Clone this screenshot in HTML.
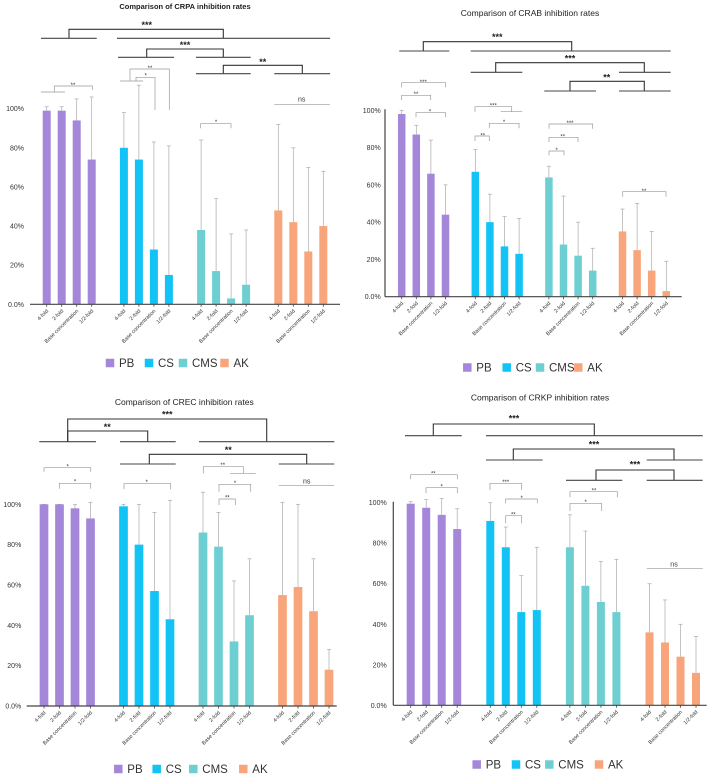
<!DOCTYPE html>
<html><head><meta charset="utf-8">
<style>
html,body{margin:0;padding:0;background:#fff;}
svg{display:block;font-family:"Liberation Sans",sans-serif;}
</style></head>
<body>
<svg id="chart" width="721" height="779" viewBox="0 0 721 779" xmlns="http://www.w3.org/2000/svg"></svg>
<script>
const groups = ['PB','CS','CMS','AK'];
const categories = ['4-fold','2-fold','Base concentration','1/2-fold'];
const yTicks = [0,20,40,60,80,100];
const yTickLabels = ['0.0%','20%','40%','60%','80%','100%'];
// values per group (in %), and error-bar upper ends (in %)
const crpaValues = [[99,99,94,74],[80,74,28,15],[38,17,3,10],[48,42,27,40]];
const crpaErrTop = [[101,101,105,106],[98,112,83,81],[84,54,36,38],[92,80,70,68]];
const crabValues = [[98,87,66,44],[67,40,27,23],[64,28,22,14],[35,25,14,3]];
const crabErrTop = [[100,92,84,60],[79,55,43,42],[70,54,40,26],[47,50,35,19]];
const crecValues = [[100,100,98,93],[99,80,57,43],[86,79,32,45],[55,59,47,18]];
const crecErrTop = [[100,100,100,101],[100,100,96,102],[106,96,62,73],[101,100,73,28]];
const crkpValues = [[99.5,97.5,94,87],[91,78,46,47],[78,59,51,46],[36,31,24,16]];
const crkpErrTop = [[100.5,101.5,102,97],[100,88,64,78],[94,86,71,72],[60,52,40,34]];
const colors = ['#a487d9','#13c3f5','#6ecfd2','#f8a57b'];

const panels = [
 {name:'crpa', title:'Comparison of CRPA inhibition rates', ox:0, oy:0, titleX:185, titleY:9, titleSize:7.5, bold:true,
  vals:crpaValues, errs:crpaErrTop, y100:108.7, y0:304.3, xStart:30, xEnd:340, yAxis:false, labelX:24,
  first:46.7, groupStep:77.2, barStep:15, barW:8, legendY:363, legendX:[110,149,183,224.5],
  major:[['***',69,223.3,29.3,38.3,146.7,25,[[41,96.7],[117,330]]],
         ['***',146.7,223.3,49,57.3,185,45,[[118,174],[196,250.7]]],
         ['**',223.3,302.3,65.3,73.7,262.7,62,[[196,250.7],[274.3,330]]]],
  minor:[['**',54.3,92.3,86,92,90,73,84,[41,65,92]],
         ['**',130,169.3,69,81,110,150,67,[120,143,81]],
         ['*',136,155,77.3,81,110,145.7,74.5,null],
         ['*',200.7,231,123.7,128.3,128.3,216,121,null],
         ['ns',274.3,330,104.3,104.3,104.3,301.7,99,null]]},
 {name:'crab', title:'Comparison of CRAB inhibition rates', ox:360, oy:0, titleX:170, titleY:16, titleSize:8.5, bold:false,
  vals:crabValues, errs:crabErrTop, y100:110.3, y0:296.7, xStart:25, xEnd:321.7, yAxis:true, labelX:20.7,
  first:41.7, groupStep:73.6, barStep:14.6, barW:7.5, legendY:367.5, legendX:[107.3,146.7,180,218.3],
  major:[['***',63.3,211.7,41.7,51,137.3,37,[[39.3,89.3],[110.7,310.7]]],
         ['***',135.7,284.3,62.7,72.3,210,58.5,[[110.7,162.3],[259,310.7]]],
         ['**',210,284.3,81.3,91,246.7,77.5,[[184.3,236],[259,310.7]]]],
  minor:[['***',41.7,85.7,82.7,87.3,87.3,63.3,81,null],
         ['**',41.7,70.7,95.3,100,100,56,93,null],
         ['*',56,85.7,112.7,117.3,117.3,70,110.5,null],
         ['***',115,151.7,106.7,111.7,111.7,133.3,104.5,[140.7,162.3,111.7]],
         ['*',129.3,159,123.3,128.3,128.3,144,121,null],
         ['**',115,129.3,136,141,141,122.7,134.5,null],
         ['***',189,232.7,124,128.7,128.7,210,122,null],
         ['**',189,218,137.3,142,142,202.7,135.5,null],
         ['*',189,204,151,155.3,155.3,196.7,149,null],
         ['**',262.7,306,191.7,196.7,196.7,284,190,null]]},
 {name:'crec', title:'Comparison of CREC inhibition rates', ox:0, oy:390, titleX:184.3, titleY:15, titleSize:8.5, bold:false,
  vals:crecValues, errs:crecErrTop, y100:114.3, y0:316, xStart:26.7, xEnd:336.7, yAxis:false, labelX:21.3,
  first:44, groupStep:79.5, barStep:15.5, barW:8.7, legendY:379, legendX:[118.3,156.7,193.3,243.3],
  major:[['***',67.7,266.7,29,51.7,167.3,24.5,[[39.3,96],[199,334.3]]],
         ['**',67.7,147.7,41,51.7,107.3,37,[[120,175.7]]],
         ['**',149.3,306.7,64.3,74,228.3,60,[[120,175.7],[278.7,334.3]]]],
  minor:[['*',44,90.7,77.7,81.7,81.7,67.7,75.5,null],
         ['*',59.3,90.7,93.3,98.7,98.7,75,90.5,null],
         ['*',124,170.7,93.7,99.3,99.3,146.7,91,null],
         ['**',203.3,243.3,76.7,83.3,83.3,222.7,74,[230,255.7,83.3]],
         ['*',219,250.7,94.3,101.7,101.7,235,92,null],
         ['**',219,235.3,109,115,115,227.3,106.5,null],
         ['ns',278.7,334.3,95.7,95.7,95.7,306.7,91,null]]},
 {name:'crkp', title:'Comparison of CRKP inhibition rates', ox:360, oy:390, titleX:180, titleY:10.5, titleSize:8.5, bold:false,
  vals:crkpValues, errs:crkpErrTop, y100:112.7, y0:315.3, xStart:33.3, xEnd:346.7, yAxis:true, labelX:26.7,
  first:50.7, groupStep:79.6, barStep:15.5, barW:8, legendY:374.5, legendX:[116.7,156,189.3,239],
  major:[['***',73.3,234.3,34,45.7,154,28.5,[[45,101.7],[126,342.7]]],
         ['***',153.3,314,59,70,234,54.5,[[126,182.7],[286.7,342.7]]],
         ['***',236,314,80,90.3,275,74.5,[[206,262.3],[286.7,342.7]]]],
  minor:[['**',50.7,97.3,84.7,89.3,89.3,73.3,82.5,null],
         ['*',66,97.3,97.7,103.3,103.3,81.7,95.5,null],
         ['***',130,161.7,93.3,100,100,145.7,91,null],
         ['*',145.7,177.3,109,113.3,113.3,161.7,107,null],
         ['**',145.7,161.7,125.7,133.3,133.3,153.3,123.5,null],
         ['**',210,257.3,101.7,107.3,107.3,234,99.5,null],
         ['*',210,241.7,113.3,121,121,225.7,111,null],
         ['ns',286.7,342.7,178.3,178.3,178.3,314,174,null]]}
];

const svg = document.getElementById('chart');
const NS = 'http://www.w3.org/2000/svg';
function mk(tag, attrs, parent){
  const e = document.createElementNS(NS, tag);
  for (const k in attrs) e.setAttribute(k, attrs[k]);
  parent.appendChild(e);
  return e;
}

panels.forEach(p => {
  const g = mk('g', {transform:`translate(${p.ox},${p.oy})`}, svg);
  
  
  const yScale = v => p.y0 - (p.y0 - p.y100) * v / 100;
  const xScale = (gi, ci) => p.first + gi * p.groupStep + ci * p.barStep;

  const t = mk('text', {x:p.titleX, y:p.titleY, 'text-anchor':'middle', 'font-size':p.titleSize, 'font-weight':p.bold?'bold':'normal', fill:'#222'}, g);
  t.textContent = p.title;
  
  

  yTicks.forEach((v, i) => {
    const tl = mk('text', {x:p.labelX, y:yScale(v) + 2.5, 'text-anchor':'end', 'font-size':7, fill:'#333'}, g);
    tl.textContent = yTickLabels[i];
    
    
  });
  if (p.yAxis) {
    const ya = mk('line', {x1:p.xStart, x2:p.xStart, y1:p.y100 - 1, y2:p.y0, stroke:'#444', 'stroke-width':1.2}, g);
    
    
  }

  groups.forEach((gr, gi) => {
    categories.forEach((cat, ci) => {
      const cx = xScale(gi, ci);
      const v = p.vals[gi][ci];
      const et = p.errs[gi][ci];
      const el = mk('line', {x1:cx, x2:cx, y1:yScale(et), y2:yScale(v), stroke:'#aaa', 'stroke-width':0.7}, g);
      
      
      const ec = mk('line', {x1:cx - 2, x2:cx + 2, y1:yScale(et), y2:yScale(et), stroke:'#aaa', 'stroke-width':0.7}, g);
      
      
      const b = mk('rect', {x:cx - p.barW/2, y:yScale(v), width:p.barW, height:p.y0 - yScale(v), fill:colors[gi]}, g);
      
      
      const tk = mk('line', {x1:cx, x2:cx, y1:p.y0, y2:p.y0 + 2.5, stroke:'#444', 'stroke-width':0.8}, g);
      
      
      const xl = mk('text', {x:cx + 2, y:p.y0 + 7, 'text-anchor':'end', 'font-size':5.3, fill:'#333', transform:`rotate(-45 ${cx + 2} ${p.y0 + 7})`}, g);
      xl.textContent = cat;
      
      
    });
  });
  const xa = mk('line', {x1:p.xStart, x2:p.xEnd, y1:p.y0, y2:p.y0, stroke:'#444', 'stroke-width':1.2}, g);
  
  

  p.major.forEach(m => {
    const [lab, x1, x2, yb, ybase, lx, ly, bases] = m;
    const br = mk('path', {d:`M${x1},${ybase} L${x1},${yb} L${x2},${yb} L${x2},${ybase}`, fill:'none', stroke:'#333', 'stroke-width':1.1}, g);
    
    
    bases.forEach(bs => {
      const bl = mk('line', {x1:bs[0], x2:bs[1], y1:ybase, y2:ybase, stroke:'#444', 'stroke-width':1.1}, g);
      
      
    });
    const tx = mk('text', {x:lx, y:ly + 3, 'text-anchor':'middle', 'font-size':9, 'font-weight':'bold', fill:'#222'}, g);
    tx.textContent = lab;
    
    
  });
  p.minor.forEach(m => {
    const [lab, x1, x2, yb, y1e, y2e, lx, ly, extra] = m;
    const br = mk('path', {d:`M${x1},${y1e} L${x1},${yb} L${x2},${yb} L${x2},${y2e}`, fill:'none', stroke:'#999', 'stroke-width':0.7}, g);
    
    
    if (extra) {
      const bl = mk('line', {x1:extra[0], x2:extra[1], y1:extra[2], y2:extra[2], stroke:'#999', 'stroke-width':0.7}, g);
      
      
    }
    const isNs = lab === 'ns';
    const tx = mk('text', {x:lx, y:ly + (isNs ? 2.5 : 3), 'text-anchor':'middle', 'font-size':isNs ? 7 : 6, fill:'#333'}, g);
    tx.textContent = lab;
    
    
  });

  groups.forEach((gr, gi) => {
    const lx = p.legendX[gi];
    const sq = mk('rect', {x:lx - 4.25, y:p.legendY - 4.25, width:8.5, height:8.5, fill:colors[gi]}, g);
    
    
    const lt = mk('text', {x:lx + 9, y:p.legendY + 4.2, 'font-size':11.5, fill:'#333'}, g);
    lt.textContent = gr;
    
    
  });
});
</script>
</body></html>
